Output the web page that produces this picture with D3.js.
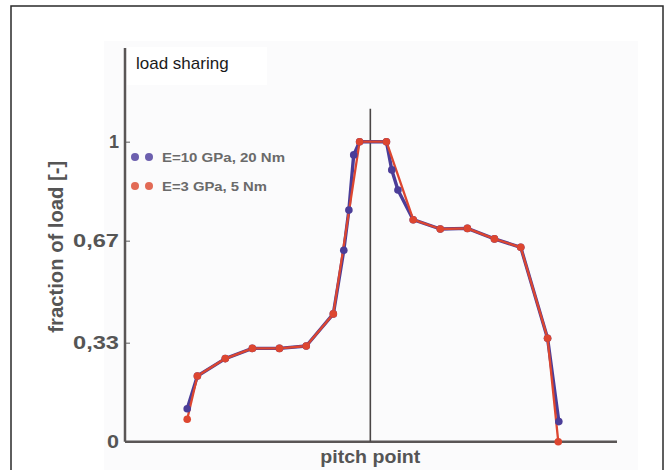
<!DOCTYPE html>
<html>
<head>
<meta charset="utf-8">
<script src="https://cdn.jsdelivr.net/npm/d3@7"></script>
<style>
  body { margin: 0; background: #fff; }
  svg { display: block; }
</style>
</head>
<body>
<div id="chart"></div>
<script>
// ------ DATA ------

// position along the line of action, 0 = pitch point
const posStiff = [-6.83, -6.45, -5.41, -4.40, -3.39, -2.39, -1.38, -0.99, -0.80, -0.62, -0.40,
                  0.60, 0.80, 1.03, 1.60, 2.61, 3.62, 4.63, 5.61, 6.61, 7.03];
const loadStiff = [0.11, 0.219, 0.277, 0.311, 0.311, 0.319, 0.426, 0.638, 0.772, 0.956, 1,
                   1, 0.906, 0.839, 0.74, 0.709, 0.711, 0.676, 0.648, 0.345, 0.067];

const posSoft = [-6.83, -6.45, -5.41, -4.40, -3.39, -2.39, -1.38, -0.40,
                 0.60, 1.60, 2.61, 3.62, 4.63, 5.61, 6.61, 7.01];
const loadSoft = [0.075, 0.219, 0.277, 0.311, 0.311, 0.319, 0.426, 1,
                  1, 0.74, 0.709, 0.711, 0.676, 0.648, 0.345, 0];

const seriesNames = ['E=10 GPa, 20 Nm', 'E=3 GPa, 5 Nm'];
const yTicks = [0, 0.33, 0.67, 1];
const yTickLabels = ['0', '0,33', '0,67', '1'];

// ------ CHART ------

const W = 667, H = 470;
const svg = d3.select('#chart').append('svg')
  .attr('width', W).attr('height', H);

// outer frame
svg.append('rect')
  .attr('x', 11).attr('y', 6).attr('width', 652).attr('height', 480)
  .attr('fill', '#fff').attr('stroke', '#2a2a2a').attr('stroke-width', 1.5);

// very faint scanned plot background
svg.append('rect')
  .attr('x', 104).attr('y', 41).attr('width', 534).attr('height', 440)
  .attr('fill', '#fbfbfc');
svg.append('rect')
  .attr('x', 127).attr('y', 47).attr('width', 140).attr('height', 38)
  .attr('fill', '#fff');

const x = d3.scaleLinear().domain([-9.15, 9.2]).range([125, 617]);
const y = d3.scaleLinear().domain([0, 1]).range([441.7, 141.7]);

// y axis with inward ticks
const yAxis = svg.append('g')
  .attr('transform', `translate(${x(-9.15)},0)`)
  .call(d3.axisLeft(y)
    .tickValues(yTicks)
    .tickFormat((d, i) => yTickLabels[i])
    .tickSizeInner(-5).tickSizeOuter(0).tickPadding(6));
yAxis.select('.domain').remove();
yAxis.selectAll('line').attr('stroke', '#777').attr('stroke-width', 1.2);
yAxis.selectAll('text')
  .attr('font-family', 'Liberation Sans, Arial, sans-serif')
  .attr('font-size', 18).attr('font-weight', 'bold').attr('fill', '#555')
  .attr('textLength', (d, i) => [12, 46, 46, 10][i])
  .attr('lengthAdjust', 'spacingAndGlyphs');

// axis lines
svg.append('line')
  .attr('x1', x(-9.15)).attr('x2', x(-9.15))
  .attr('y1', y(1.312)).attr('y2', y(0))
  .attr('stroke', '#5a5656').attr('stroke-width', 2.5);
svg.append('line')
  .attr('x1', x(-9.15)).attr('x2', x(9.2))
  .attr('y1', y(0)).attr('y2', y(0))
  .attr('stroke', '#5a5656').attr('stroke-width', 2.5);

// pitch point marker
svg.append('line')
  .attr('x1', x(0)).attr('x2', x(0))
  .attr('y1', y(1.11)).attr('y2', y(0))
  .attr('stroke', '#4a4646').attr('stroke-width', 1.6);

// axis titles
svg.append('text')
  .attr('x', x(0)).attr('y', 463)
  .attr('text-anchor', 'middle')
  .attr('font-family', 'Liberation Sans, Arial, sans-serif')
  .attr('font-size', 18).attr('font-weight', 'bold').attr('fill', '#555')
  .attr('textLength', 100).attr('lengthAdjust', 'spacingAndGlyphs')
  .text('pitch point');

svg.append('text')
  .attr('transform', `translate(63,${y(0.65)}) rotate(-90)`)
  .attr('text-anchor', 'middle')
  .attr('font-family', 'Liberation Sans, Arial, sans-serif')
  .attr('font-size', 20).attr('font-weight', 'bold').attr('fill', '#555')
  .attr('textLength', 172).attr('lengthAdjust', 'spacingAndGlyphs')
  .text('fraction of load [-]');

svg.append('text')
  .attr('x', 136).attr('y', 69)
  .attr('font-family', 'Liberation Sans, Arial, sans-serif')
  .attr('font-size', 17).attr('fill', '#1a1a1a')
  .text('load sharing');

// series
const blue = '#4b3d98', red = '#dd4630';
const lineGen = (px, py) => d3.line()
  .x((d, i) => x(px[i]))
  .y((d, i) => y(py[i]))(py);

svg.append('path')
  .attr('d', lineGen(posStiff, loadStiff))
  .attr('fill', 'none').attr('stroke', blue).attr('stroke-width', 3.4)
  .attr('stroke-linejoin', 'round');
svg.append('path')
  .attr('d', lineGen(posSoft, loadSoft))
  .attr('fill', 'none').attr('stroke', red).attr('stroke-width', 2.3)
  .attr('stroke-linejoin', 'round');

svg.append('g').selectAll('circle')
  .data(loadStiff)
  .join('circle')
  .attr('cx', (d, i) => x(posStiff[i]))
  .attr('cy', d => y(d))
  .attr('r', 3.8)
  .attr('fill', blue);
svg.append('g').selectAll('circle')
  .data(loadSoft)
  .join('circle')
  .attr('cx', (d, i) => x(posSoft[i]))
  .attr('cy', d => y(d))
  .attr('r', 3.8)
  .attr('fill', red);

// legend
const legColors = ['#6c5fae', '#e26a55'];
const leg = svg.append('g');
seriesNames.forEach((name, i) => {
  const ly = 157 + i * 29;
  [135, 149].forEach(cx => {
    leg.append('circle').attr('cx', cx).attr('cy', ly).attr('r', 4)
      .attr('fill', legColors[i]);
  });
  leg.append('text')
    .attr('x', 162).attr('y', ly + 4.5)
    .attr('font-family', 'Liberation Sans, Arial, sans-serif')
    .attr('font-size', 12.5).attr('font-weight', 'bold').attr('fill', '#6a6a6a')
    .attr('textLength', i === 0 ? 123 : 105).attr('lengthAdjust', 'spacingAndGlyphs')
    .text(name);
});
</script>
</body>
</html>
